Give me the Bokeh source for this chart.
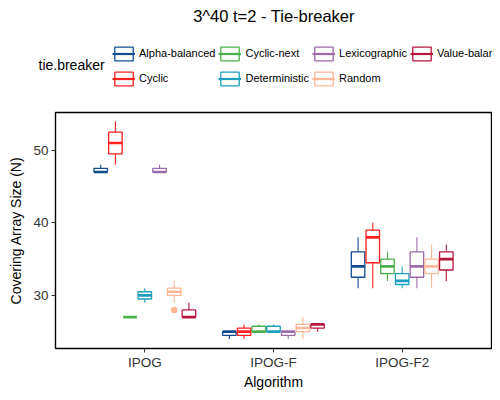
from bokeh.plotting import figure
from bokeh.layouts import column
from bokeh.models import (ColumnDataSource, FactorRange, Range1d, Legend,
                          LegendItem, Label, FixedTicker)
from bokeh.transform import dodge
from bokeh.embed import file_html
from bokeh.resources import INLINE

algorithms = ["IPOG", "IPOG-F", "IPOG-F2"]
tie_breakers = ["Alpha-balanced", "Cyclic", "Cyclic-next", "Deterministic",
                "Lexicographic", "Random", "Value-balanced"]
colors = ["#134B8F", "#FF2020", "#4BB04B", "#1C9FBE", "#9A6AAA", "#FDB797", "#B5173D"]

# rows: tie-breakers, columns: algorithms (IPOG, IPOG-F, IPOG-F2)
lower = [[47, 24, 31], [48, 24, 31], [27, 25, 32], [29, 25, 31],
         [47, 24, 31], [29, 24, 31], [27, 25, 32]]
q1 = [[47, 24.5, 32.5], [49.5, 24.5, 34.5], [27, 25, 33], [29.5, 25, 31.5],
      [47, 24.5, 32.5], [30, 25, 33], [27, 25.5, 33.5]]
median = [[47, 25, 34], [51, 25, 38], [27, 25, 34], [30, 25, 32],
          [47, 25, 34], [30.5, 25.5, 34], [27, 26, 35]]
q3 = [[47.5, 25, 36], [52.5, 25.5, 39], [27, 25.75, 35], [30.5, 25.75, 33],
      [47.5, 25, 36], [31, 26, 35], [28, 26, 36]]
upper = [[48, 25, 38], [54, 26, 40], [27, 26, 36], [31, 26, 34],
         [48, 25, 38], [32, 27, 37], [29, 26, 37]]

outlier_tie = ["Random"]
outlier_alg = ["IPOG"]
outlier_val = [28]

y_ticks = [30, 40, 50]

title_text = "3^40 t=2 - Tie-breaker"
legend_title = "tie.breaker"
x_title = "Algorithm"
y_title = "Covering Array Size (N)"

FONT = "Liberation Sans"
W = 492
H_HEAD = 100
H_MAIN = 292

# ---------------- main plot ----------------
p = figure(x_range=FactorRange(factors=algorithms, range_padding=0.194,
                               range_padding_units="absolute"),
           y_range=Range1d(22.68, 55.21),
           width=W, height=H_MAIN, output_backend="svg", toolbar_location=None,
           min_border_left=55, min_border_right=1, min_border_top=12,
           min_border_bottom=43)
p.title.visible = False
p.xgrid.visible = False
p.ygrid.visible = False
p.background_fill_color = "white"
p.border_fill_color = "white"
p.outline_line_color = "black"
p.outline_line_width = 1.4
p.outline_line_alpha = 1.0

# ---------------- header: title + legend ----------------
h = figure(width=W, height=H_HEAD, x_range=Range1d(0, W), y_range=Range1d(0, H_HEAD),
           output_backend="svg", toolbar_location=None,
           x_axis_location=None, y_axis_location=None,
           min_border_left=0, min_border_right=0, min_border_top=0,
           min_border_bottom=0)
h.title.visible = False
h.xgrid.visible = False
h.ygrid.visible = False
h.outline_line_color = None
h.background_fill_color = "white"
h.border_fill_color = "white"

for fig in (p, h):
    try:
        fig.frame_align = False
    except Exception:
        pass

n = len(tie_breakers)
step = 0.8 / n
box_w = 0.105

legend_items = []
for i, (tb, col) in enumerate(zip(tie_breakers, colors)):
    off = (i - (n - 1) / 2) * step
    src = ColumnDataSource(dict(alg=algorithms, lower=lower[i], q1=q1[i],
                                med=median[i], q3=q3[i], upper=upper[i]))
    p.segment(x0=dodge("alg", off, range=p.x_range), y0="lower",
              x1=dodge("alg", off, range=p.x_range), y1="upper",
              line_color=col, line_width=1.1, source=src)
    p.vbar(x=dodge("alg", off, range=p.x_range), width=box_w,
           bottom="q1", top="q3", fill_color="white", line_color=col,
           line_width=1.3, source=src)
    p.segment(x0=dodge("alg", off - box_w / 2, range=p.x_range), y0="med",
              x1=dodge("alg", off + box_w / 2, range=p.x_range), y1="med",
              line_color=col, line_width=2.6, source=src)

    o_alg = [a for t, a in zip(outlier_tie, outlier_alg) if t == tb]
    o_val = [v for t, v in zip(outlier_tie, outlier_val) if t == tb]
    if o_alg:
        osrc = ColumnDataSource(dict(alg=o_alg, val=o_val))
        p.scatter(x=dodge("alg", off, range=p.x_range), y="val", size=6.5,
                  fill_color=col, line_color=None, source=osrc)

    # legend key renderers (hidden; only their legend glyph is drawn)
    kb = h.vbar(x="q1", width=1, bottom="q1", top="q3", fill_color="white",
                line_color=col, line_width=1.3, source=src, visible=False)
    km = h.segment(x0="q1", y0="med", x1="q3", y1="med", line_color=col,
                   line_width=2.2, source=src, visible=False)
    legend_items.append(LegendItem(label=tb, renderers=[kb, km]))

p.yaxis.ticker = FixedTicker(ticks=y_ticks)
for ax in (p.xaxis[0], p.yaxis[0]):
    ax.axis_line_color = None
    ax.major_tick_out = 4
    ax.major_tick_in = 0
    ax.minor_tick_out = 0
    ax.minor_tick_in = 0
    ax.major_tick_line_color = "#333333"
    ax.major_tick_line_width = 1
    ax.major_label_text_font = FONT
    ax.major_label_text_font_size = "13.5px"
    ax.major_label_text_color = "#333333"
    ax.axis_label_text_font = FONT
    ax.axis_label_text_font_size = "14px"
    ax.axis_label_text_font_style = "normal"
    ax.axis_label_text_color = "black"
p.xaxis.axis_label = x_title
p.yaxis.axis_label = y_title
p.xaxis.major_label_standoff = 2
p.xaxis.axis_label_standoff = 1
p.yaxis.major_label_standoff = 3
p.yaxis.axis_label_standoff = 6

legend = Legend(items=legend_items, orientation="vertical", nrows=2,
                location=(112, 11), padding=0, margin=0, spacing=3,
                glyph_width=23, glyph_height=17, label_height=22,
                label_standoff=4, label_text_font=FONT,
                label_text_font_size="11px", label_text_color="black",
                border_line_color=None, background_fill_alpha=0)
h.add_layout(legend, "center")

h.add_layout(Label(x=273.5, y=85, x_units="screen", y_units="screen",
                   text=title_text, text_align="center",
                   text_baseline="middle", text_font=FONT,
                   text_font_size="16.5px", text_color="black"))
h.add_layout(Label(x=38, y=36, x_units="screen", y_units="screen",
                   text=legend_title, text_align="left",
                   text_baseline="middle", text_font=FONT,
                   text_font_size="14px", text_color="black"))

layout = column(h, p, spacing=0)
open("out.html", "w").write(file_html(layout, INLINE))
